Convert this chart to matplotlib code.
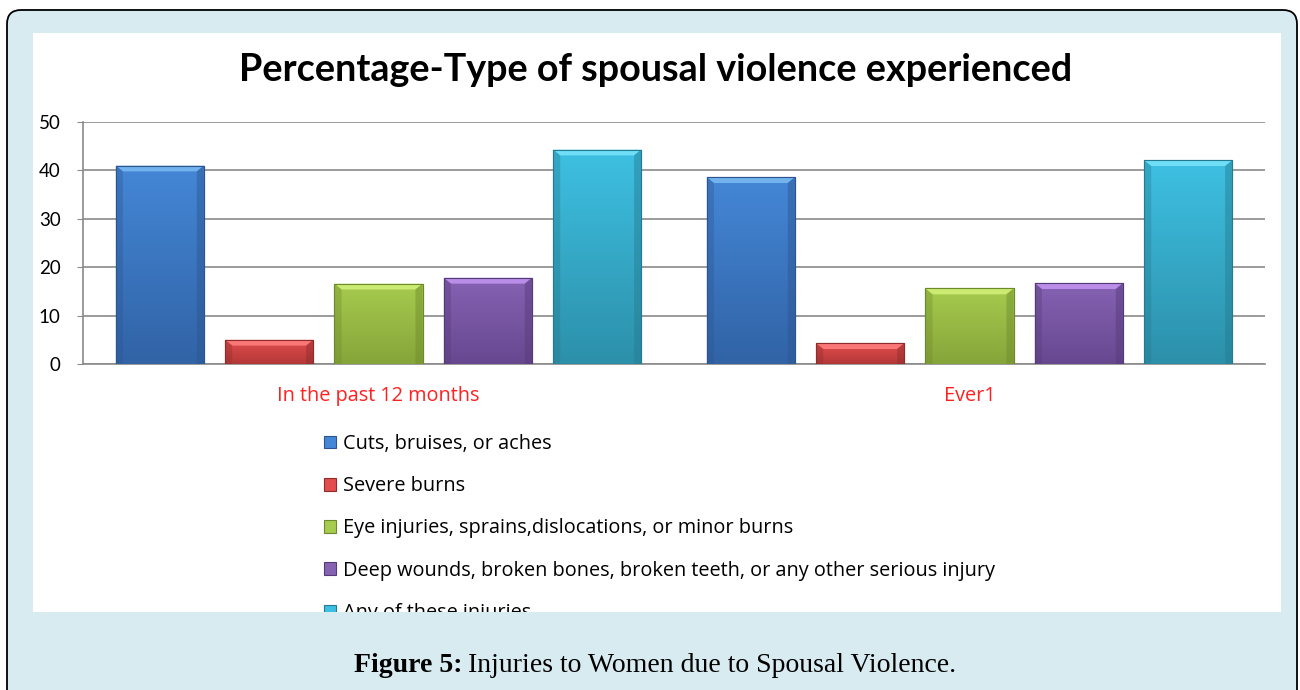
import numpy as np
import matplotlib
matplotlib.use('Agg')
import matplotlib.pyplot as plt
from matplotlib.patches import FancyBboxPatch, Rectangle, Patch, Polygon
from matplotlib.colors import LinearSegmentedColormap
from matplotlib.transforms import IdentityTransform

# data
groups = ['In the past 12 months', 'Ever1']
series = ['Cuts, bruises, or aches',
          'Severe burns',
          'Eye injuries, sprains,dislocations, or minor burns',
          'Deep wounds, broken bones, broken teeth, or any other serious injury',
          'Any of these injuries']
cuts = [41.0, 38.6]
burns = [5.0, 4.3]
eye = [16.6, 15.6]
deep = [17.8, 16.7]
any_injury = [44.3, 42.1]
values = [cuts, burns, eye, deep, any_injury]

# (top, bottom, bevel highlight, edge)
styles = [('#4487d6', '#3163a6', '#7cbcf2', '#2c5590'),
          ('#e24d4d', '#b43838', '#ff8080', '#8e2c2c'),
          ('#a6cb4e', '#86a53a', '#d4f27a', '#6c8a2c'),
          ('#8662b3', '#674890', '#c496f2', '#553a78'),
          ('#3ec0e2', '#2c90aa', '#78e4fa', '#257a90')]

W, H = 1300, 690
BG = '#d7ebf0'
plt.rcParams['font.family'] = ['Lato', 'DejaVu Sans']

fig = plt.figure(figsize=(W / 100, H / 100), dpi=100)
fig.patch.set_facecolor('white')

def fx(px):
    return px / W

def fy(py):
    return 1 - py / H

# outer rounded frame and white chart panel (pixel coordinates)
frame = FancyBboxPatch((7, -30), 1290, 710, boxstyle='round,pad=0,rounding_size=14',
                       transform=IdentityTransform(), facecolor=BG, edgecolor='black',
                       lw=1.3, zorder=-10)
fig.patches.append(frame)
panel = Rectangle((33, H - 612), 1248, 579, transform=IdentityTransform(),
                  facecolor='white', edgecolor='none', zorder=-9)
fig.patches.append(panel)

fig.text(fx(656), fy(70), 'Percentage-Type of spousal violence experienced',
         ha='center', va='center', fontsize=27.2, fontweight='bold', color='black')

ax = fig.add_axes([fx(83), fy(364), fx(1182), 242 / H])
ax.set_facecolor('none')

step = 0.185
width = 0.149
dx = 0.012
dy = 1.2
x = np.arange(len(groups))
for i, (vals, (top, bot, hi, edge)) in enumerate(zip(values, styles)):
    xs = x + (i - 2) * step
    bars = ax.bar(xs, vals, width, color=bot, edgecolor=edge, lw=0.8, zorder=3)
    cmap = LinearSegmentedColormap.from_list('g%d' % i, [bot, top])
    for b, v in zip(bars, vals):
        x0 = b.get_x()
        x1 = x0 + b.get_width()
        grad = np.linspace(0, 1, 64).reshape(-1, 1)
        im = ax.imshow(grad, extent=(x0, x1, 0, v), origin='lower', cmap=cmap,
                       aspect='auto', zorder=3.1, interpolation='bilinear')
        im.set_clip_path(b)
        # bevel: light top, darker sides
        ax.add_patch(Polygon([(x0, v), (x1, v), (x1 - dx, v - dy), (x0 + dx, v - dy)],
                             closed=True, facecolor=hi, edgecolor='none', alpha=0.85, zorder=3.2))
        ax.add_patch(Polygon([(x0, 0), (x0, v), (x0 + dx, v - dy), (x0 + dx, 0)],
                             closed=True, facecolor=edge, edgecolor='none', alpha=0.35, zorder=3.2))
        ax.add_patch(Polygon([(x1, 0), (x1, v), (x1 - dx, v - dy), (x1 - dx, 0)],
                             closed=True, facecolor=edge, edgecolor='none', alpha=0.45, zorder=3.2))
        ax.add_patch(Rectangle((x0, 0), x1 - x0, v, facecolor='none', edgecolor=edge,
                               lw=0.8, zorder=3.3))

ax.set_xlim(-0.5, 1.5)
ax.set_ylim(0, 50)
ax.set_yticks([0, 10, 20, 30, 40, 50])
ax.yaxis.grid(True, color='#8a8a8a', lw=1.2)
ax.set_axisbelow(True)
for s in ['top', 'right']:
    ax.spines[s].set_visible(False)
for s in ['left', 'bottom']:
    ax.spines[s].set_color('#8a8a8a')
    ax.spines[s].set_linewidth(1.2)
ax.tick_params(axis='y', length=4, color='#8a8a8a', labelsize=13.5, pad=12)
ax.set_xticks(x)
ax.set_xticklabels(groups, color='#ff2020', fontsize=14.3, family=['Open Sans', 'DejaVu Sans'])
ax.tick_params(axis='x', length=0, pad=16)

handles = [Patch(facecolor=s[0], edgecolor=s[3], lw=0.8) for s in styles]
leg = fig.legend(handles, series, loc='upper left', bbox_to_anchor=(fx(324), fy(434)),
                 frameon=False, handlelength=0.62, handleheight=0.62,
                 handletextpad=0.33, labelspacing=1.12, borderaxespad=0, borderpad=0,
                 prop={'family': ['Open Sans', 'DejaVu Sans'], 'size': 14.3})
leg.set_zorder(5)

# the legend runs past the chart panel and is cut off there
cover = Rectangle((20, -20), 1270, H - 612 + 20, transform=IdentityTransform(),
                  facecolor=BG, edgecolor='none', zorder=8)
fig.patches.append(cover)

fig.text(fx(463), fy(665), 'Figure 5:', ha='right', va='center', fontsize=20,
         fontweight='bold', family='Liberation Serif', zorder=9)
fig.text(fx(468), fy(665), 'Injuries to Women due to Spousal Violence.', ha='left',
         va='center', fontsize=20, family='Liberation Serif', zorder=9)

fig.savefig('out.png', dpi=100)
